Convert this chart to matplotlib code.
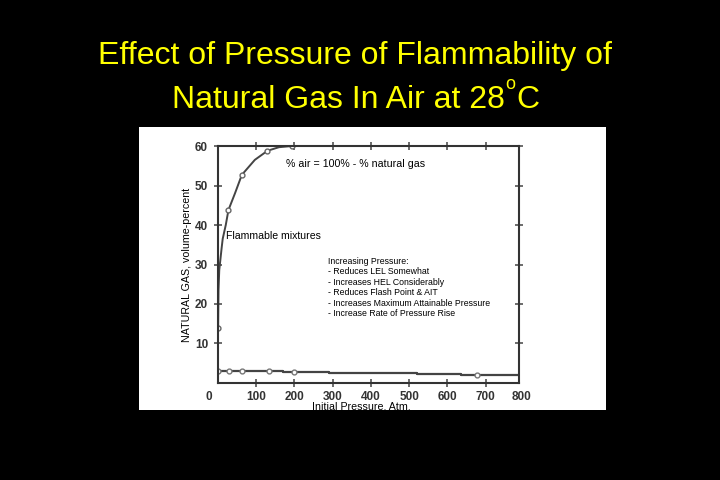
import matplotlib
matplotlib.use("Agg")
from matplotlib import pyplot as plt
from matplotlib.patches import Rectangle

plt.rcParams['font.family'] = ['Liberation Sans', 'DejaVu Sans']

# upper flammable limit: traced curve and the marked points on it
uel_pressure = [1, 2, 4, 10, 13, 21, 28, 45, 63, 97, 130, 160, 193]
uel_percent = [13.8, 23.5, 28.6, 34, 36.5, 40, 43.8, 48, 52.7, 56.5, 58.8, 59.7, 60]
uel_pts_pressure = [1, 28, 63, 130, 193]
uel_pts_percent = [13.8, 43.8, 52.7, 58.8, 60]

# lower flammable limit: stepped trace and marked points
lel_pressure = [1, 170, 290, 520, 635, 750, 787]
lel_percent = [3.0, 2.8, 2.55, 2.35, 2.15, 1.9, 1.9]
lel_pts_pressure = [1, 30, 64, 134, 200, 678]
lel_pts_percent = [3.0, 3.0, 3.0, 3.0, 2.8, 2.0]

x_ticks = [100, 200, 300, 400, 500, 600, 700]
y_ticks = [10, 20, 30, 40, 50, 60]

notes = ("Increasing Pressure:\n"
         "- Reduces LEL Somewhat\n"
         "- Increases HEL Considerably\n"
         "- Reduces Flash Point & AIT\n"
         "- Increases Maximum Attainable Pressure\n"
         "- Increase Rate of Pressure Rise")

tick_font = dict(family=['Liberation Sans'], size=8.5, weight='bold')

fig = plt.figure(figsize=(7.2, 4.8), dpi=100, facecolor='black')
renderer = fig.canvas.get_renderer()

# white picture pasted on the slide
fig.add_artist(Rectangle((0.193, 0.146), 0.649, 0.589, transform=fig.transFigure,
                         facecolor='white', edgecolor='none', zorder=0))

yellow = '#ffff00'
fig.text(0.4925, 0.8675, "Effect of Pressure of Flammability of", color=yellow,
         fontsize=23, ha='center', va='baseline')
t_main = fig.text(172 / 720, 0.776, "Natural Gas In Air at 28", color=yellow,
                  fontsize=23, ha='left', va='baseline')
bb = t_main.get_window_extent(renderer)
t_sup = fig.text(bb.x1 / 720 + 0.001, 0.8146, "o", color=yellow, fontsize=13,
                 ha='left', va='baseline')
bb = t_sup.get_window_extent(renderer)
fig.text(bb.x1 / 720 + 0.001, 0.776, "C", color=yellow, fontsize=23,
         ha='left', va='baseline')

ax = fig.add_axes([0.3024, 0.2021, 0.4184, 0.4937])
ax.set_facecolor('white')
ax.plot(uel_pressure, uel_percent, color='#444444', lw=1.4)
ax.plot(uel_pts_pressure, uel_pts_percent, 'o', ms=3.5, mfc='white', mec='#666666', mew=1)
ax.plot(lel_pressure, lel_percent, color='#444444', lw=1.6, drawstyle='steps-post')
ax.plot(lel_pts_pressure, lel_pts_percent, 'o', ms=3.5, mfc='white', mec='#777777', mew=1)

ax.set_xlim(0, 787)
ax.set_ylim(0, 60)
ax.set_xticks(x_ticks)
ax.set_yticks(y_ticks)
for s in ax.spines.values():
    s.set_color('#333333')
    s.set_linewidth(1.5)
ax.tick_params(direction='inout', length=6, width=1.1, color='#444444',
               top=True, right=True, labelcolor='#333333')
ax.tick_params(axis='x', pad=3)
ax.tick_params(axis='y', pad=4)
for lbl in ax.get_xticklabels() + ax.get_yticklabels():
    lbl.set(**tick_font)
xt = ax.get_xaxis_transform()
ax.text(-23, -0.035, "0", transform=xt, ha='center', va='top', color='#333333', **tick_font)
ax.text(794, -0.035, "800", transform=xt, ha='center', va='top', color='#333333', **tick_font)

ax.set_ylabel("NATURAL GAS, volume-percent", fontsize=7.7, labelpad=2)
ax.set_xlabel("Initial Pressure, Atm.", fontsize=7.7)
ax.xaxis.set_label_coords(0.477, -0.08)

ax.text(178, 55.4, "% air = 100% - % natural gas", fontsize=7.7, va='center')
ax.text(22, 37.2, "Flammable mixtures", fontsize=7.6, va='center')
ax.text(287, 32.0, notes, fontsize=6.3, va='top', linespacing=1.22)

fig.savefig('out.png', dpi=100, facecolor='black')
